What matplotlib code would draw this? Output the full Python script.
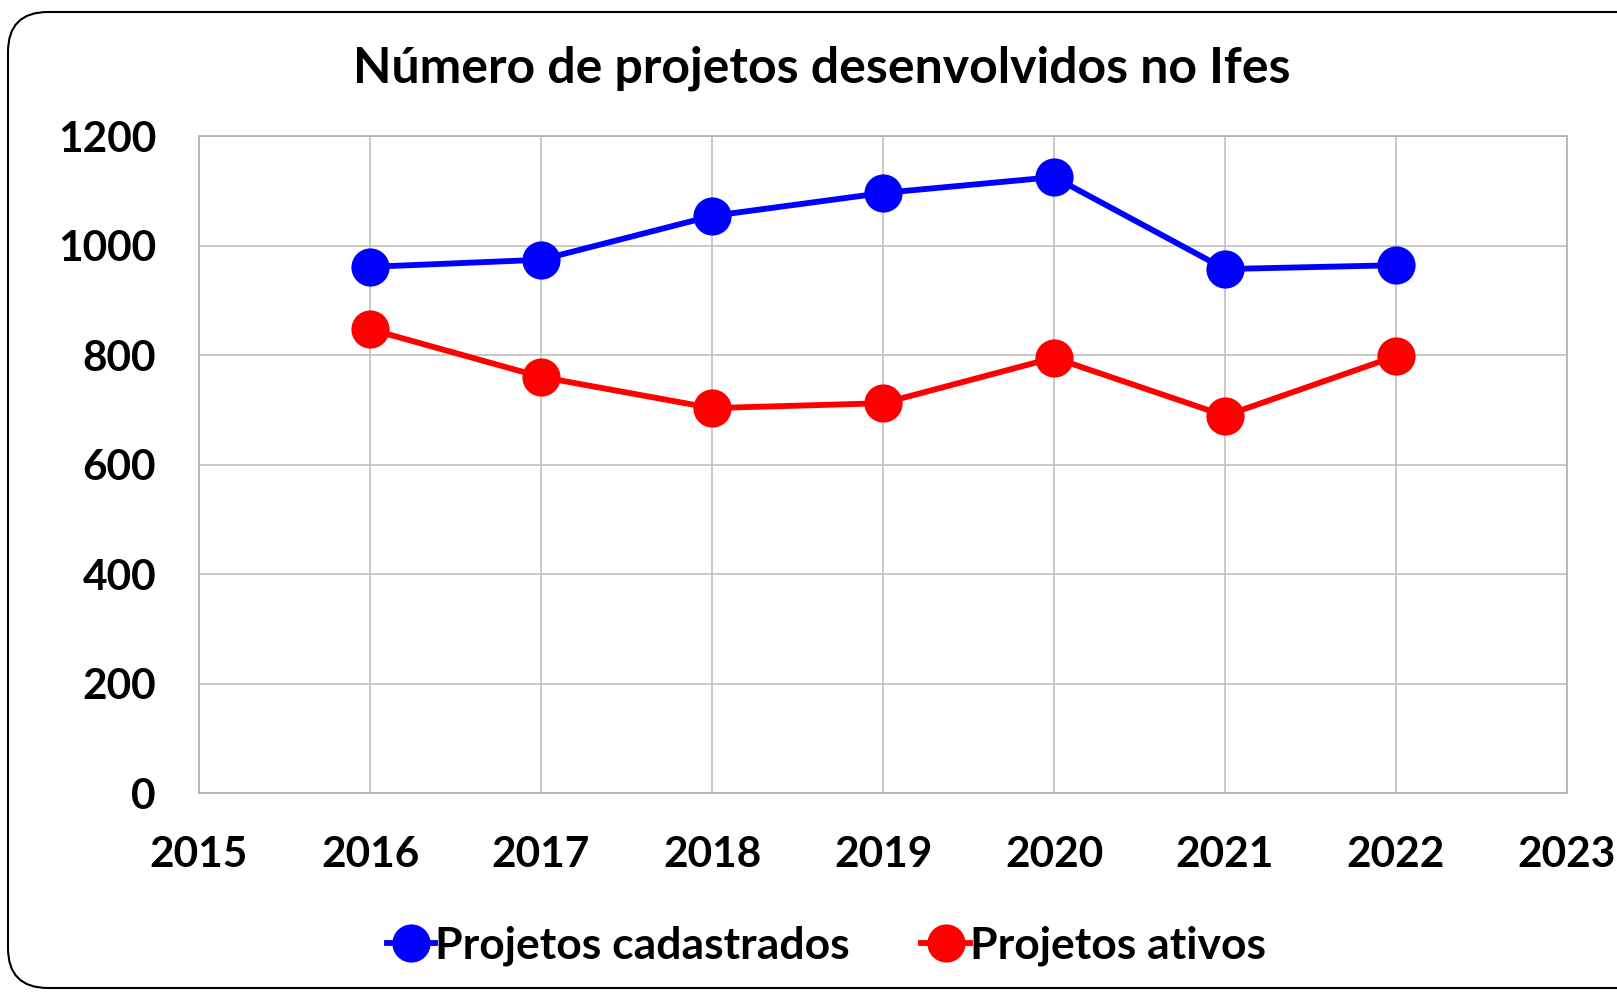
import matplotlib

matplotlib.use("Agg")
import matplotlib.pyplot as plt
from matplotlib.patches import FancyBboxPatch

years = [2016, 2017, 2018, 2019, 2020, 2021, 2022]
cadastrados = [961, 974, 1054, 1096, 1125, 957, 964]
ativos = [847, 760, 703, 712, 795, 689, 798]

x_ticks = list(range(2015, 2024))
y_ticks = [0, 200, 400, 600, 800, 1000, 1200]

plt.rcParams["font.family"] = ["Lato", "DejaVu Sans"]
plt.rcParams["font.weight"] = "bold"

fig = plt.figure(figsize=(16.17, 9.92), dpi=100)
ax = fig.add_axes([0.1231, 0.2006, 0.846, 0.6623])

# rounded outer frame
frame = FancyBboxPatch(
    (0.08, 0.04), 16.6, 9.76,
    boxstyle="round,pad=0,rounding_size=0.4",
    transform=fig.dpi_scale_trans, facecolor="white",
    edgecolor="black", linewidth=1.5, zorder=-10,
)
fig.patches.append(frame)

style = dict(linewidth=4.2, marker="o", markersize=27.5, markeredgewidth=0)
ax.plot(years, cadastrados, color="#0000ff", label="Projetos cadastrados", **style)
ax.plot(years, ativos, color="#ff0000", label="Projetos ativos", **style)

ax.set_xlim(2015, 2023)
ax.set_ylim(0, 1200)
ax.set_xticks(x_ticks)
ax.set_yticks(y_ticks)
ax.tick_params(length=0, labelsize=30.5, pad=31)
ax.grid(True, color="#c0c0c0", linewidth=1.2)
ax.set_axisbelow(True)
for sp in ax.spines.values():
    sp.set_color("#b0b0b0")
    sp.set_linewidth(1.2)

fig.text(0.5085, 1 - 68 / 992, "Número de projetos desenvolvidos no Ifes",
         ha="center", va="center", fontsize=36, fontweight="bold")

fig.legend(loc="center", bbox_to_anchor=(0.511, 1 - 946 / 992), ncol=2,
           frameon=False, fontsize=32, handlelength=1.1, handletextpad=0.0,
           columnspacing=1.6, markerscale=1.0)

fig.savefig("out.png", dpi=100)
